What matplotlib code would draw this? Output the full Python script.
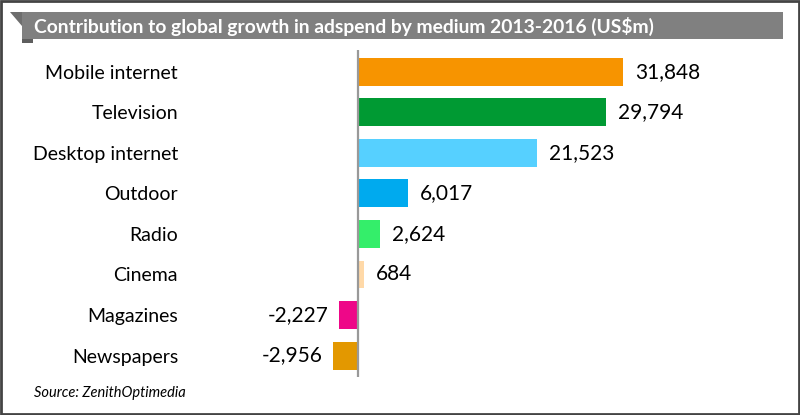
import matplotlib.pyplot as plt
from matplotlib.patches import Rectangle, Polygon

# ======================
# DATA
# ======================
media = ["Mobile internet", "Television", "Desktop internet", "Outdoor",
         "Radio", "Cinema", "Magazines", "Newspapers"]
growth = [31848, 29794, 21523, 6017, 2624, 684, -2227, -2956]
colors = ["#F79400", "#009A33", "#56D0FF", "#00AAEE",
          "#34EE6A", "#FFD9A8", "#EE0788", "#E39800"]
title = "Contribution to global growth in adspend by medium 2013-2016 (US$m)"
source = "Source: ZenithOptimedia"

plt.rcParams["font.family"] = ["Lato", "DejaVu Sans"]

W, H = 800, 415
fig = plt.figure(figsize=(W / 100, H / 100), dpi=100)

def px(x0, y0, x1, y1):
    """pixel box (top-left origin) -> figure fraction [l, b, w, h]"""
    return [x0 / W, 1 - y1 / H, (x1 - x0) / W, (y1 - y0) / H]

# axes: zero at x=358, 0.00832 px per US$m
scale = 0.00832
xmin, xmax = -4000, 36000
ax_l = 358 + xmin * scale
ax_r = 358 + xmax * scale
ax = fig.add_axes(px(ax_l, 50, ax_r, 377))

y = list(range(len(media)))
ax.barh(y, growth, height=0.69, color=colors, edgecolor="none")
ax.axvline(0, color="#999999", lw=1.6)

for yi, v in zip(y, growth):
    label = f"{v:,}"
    if v >= 0:
        ax.annotate(label, (v, yi), xytext=(8.6, 0), textcoords="offset points",
                    ha="left", va="center", fontsize=15, color="black")
    else:
        ax.annotate(label, (v, yi), xytext=(-8, 0), textcoords="offset points",
                    ha="right", va="center", fontsize=15, color="black")

ax.set_xlim(xmin, xmax)
ax.set_ylim(7.53, -0.54)
ax.set_xticks([])
ax.set_yticks(y)
ax.set_yticklabels(media, fontsize=14, color="black")
ax.tick_params(axis="y", length=0, pad=(ax_l - 178) * 0.72)
for s in ax.spines.values():
    s.set_visible(False)

# ======================
# TITLE BANNER
# ======================
bg = fig.add_axes([0, 0, 1, 1], zorder=-1)
bg.set_xlim(0, W)
bg.set_ylim(H, 0)
bg.axis("off")
bg.add_patch(Polygon([(10, 12.3), (22, 12.3), (22, 26)], closed=True,
                     color="#6E6E6E", lw=0))
bg.add_patch(Polygon([(22, 39), (33, 39), (33, 43.5), (22, 43.5)], closed=True,
                     color="#5E5E5E", lw=0))
bg.add_patch(Rectangle((22, 12.3), 783 - 22, 27, color="#808080", lw=0))
bg.text(34, 26, title, color="white", fontsize=13.9, fontweight="bold",
        ha="left", va="center")
bg.text(34, 393, source, fontsize=10.5, style="italic", color="black",
        ha="left", va="center")
bg.add_patch(Rectangle((1, 1), W - 2, H - 2, fill=False, ec="#444444", lw=2))

plt.savefig("out.png", dpi=100)
